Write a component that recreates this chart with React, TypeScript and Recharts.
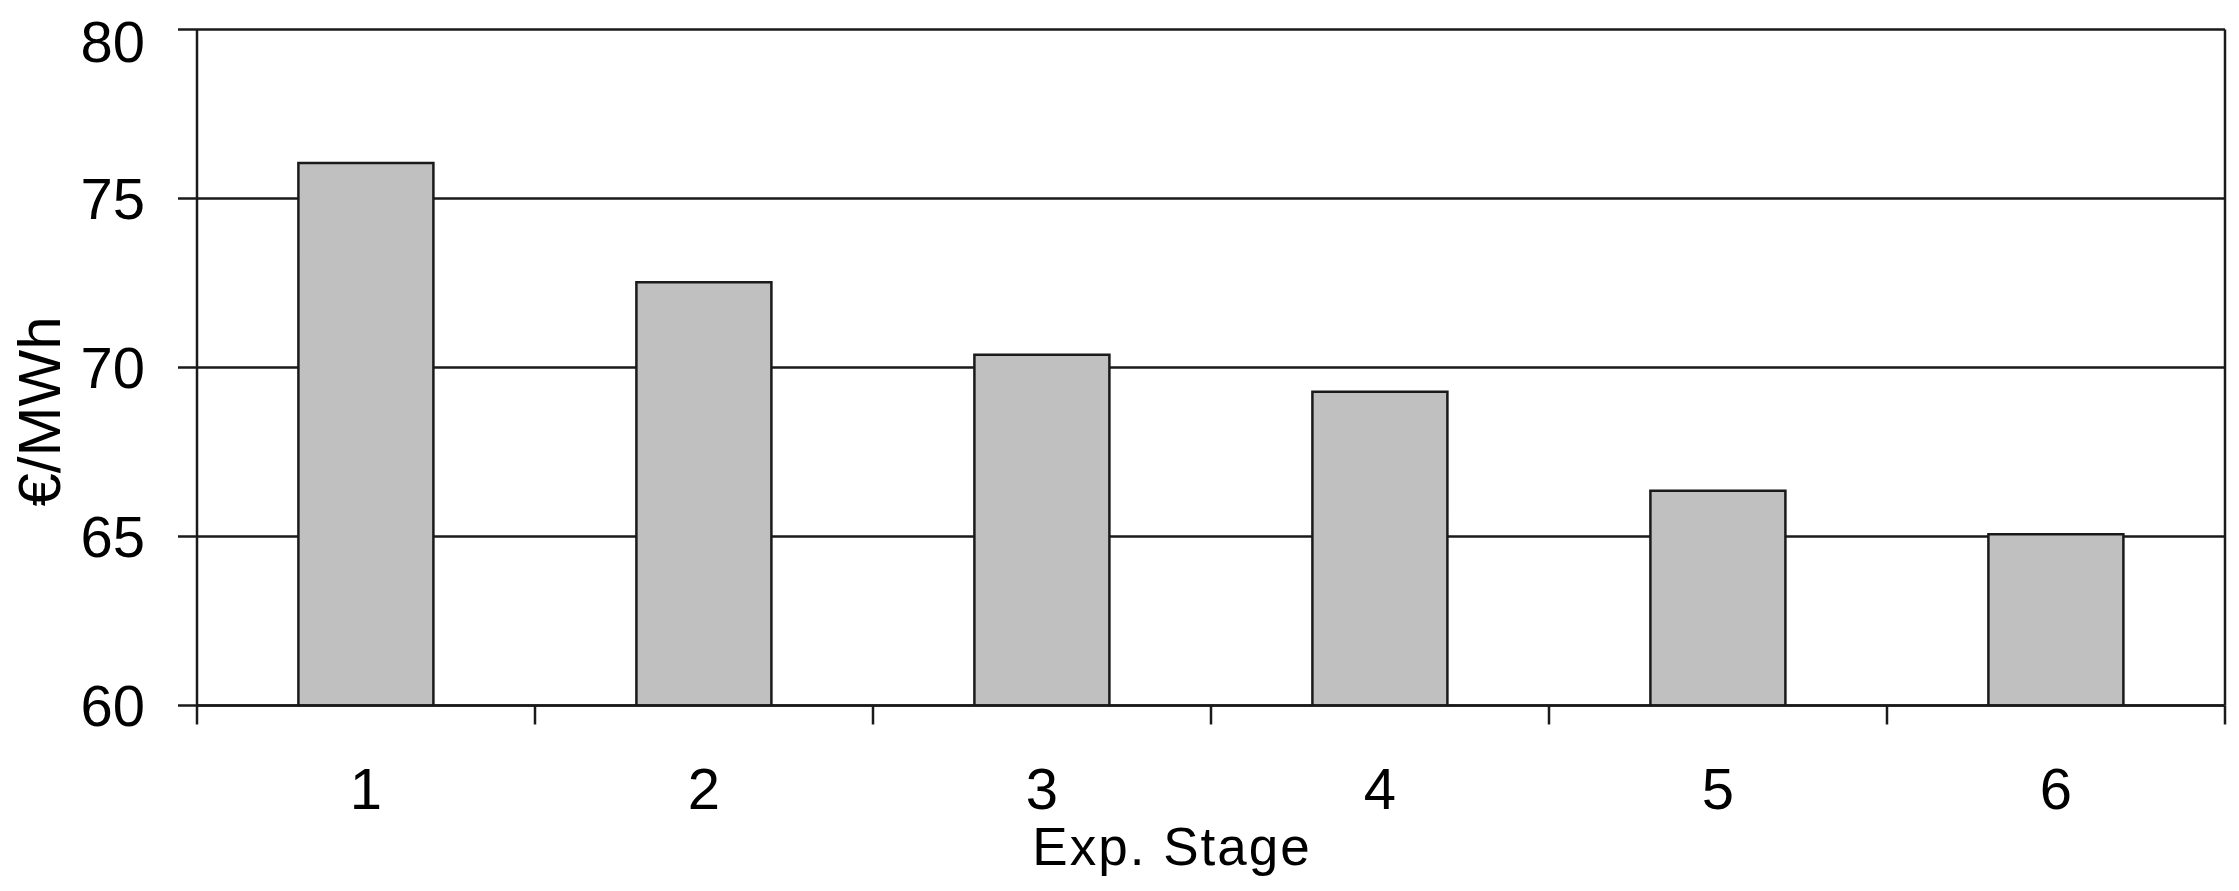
import React from "react";
import { BarChart, Bar, XAxis, YAxis, CartesianGrid, Label } from "recharts";

const stages = ["1", "2", "3", "4", "5", "6"];
const prices = [76.05, 72.52, 70.38, 69.28, 66.35, 65.07];
const yTicks = [60, 65, 70, 75, 80];

const data = stages.map((s, i) => ({ stage: s, price: prices[i] }));

const FONT = "'Liberation Sans', Arial, sans-serif";
const LINE = "#1a1a1a";
const LW = 2.5;
const TICK_LEN = 19;
const X_TICK_MARGIN = 62;

const YLabel = (props: any) => {
  const vb = props.viewBox || {};
  const cx = vb.x + 31;
  const cy = vb.y + vb.height / 2 + 44;
  return (
    <text
      x={cx}
      y={cy}
      transform={`rotate(-90, ${cx}, ${cy})`}
      textAnchor="middle"
      dominantBaseline="central"
      fontFamily={FONT}
      fontSize={60}
      fill="#000"
    >
      €/MWh
    </text>
  );
};

const XTick = (props: any) => {
  const { x, y, payload, index, visibleTicksCount, width } = props;
  const half =
    payload && typeof payload.offset === "number" && payload.offset > 0
      ? payload.offset
      : width / visibleTicksCount / 2;
  const axisY = y - X_TICK_MARGIN;
  const left = x - half;
  const right = x + half;
  return (
    <g>
      <line x1={left} x2={left} y1={axisY} y2={axisY + TICK_LEN} stroke={LINE} strokeWidth={LW} />
      {index === visibleTicksCount - 1 && (
        <line x1={right} x2={right} y1={axisY} y2={axisY + TICK_LEN} stroke={LINE} strokeWidth={LW} />
      )}
      <text
        x={x}
        y={y}
        dy="0.71em"
        textAnchor="middle"
        fontFamily={FONT}
        fontSize={58}
        fill="#000"
      >
        {payload.value}
      </text>
    </g>
  );
};

export default function App() {
  return (
    <div style={{ width: 2223, height: 875, background: "#fff" }}>
      <BarChart
        width={2223}
        height={875}
        data={data}
        margin={{ top: 21.5, right: 6, bottom: 0, left: 0 }}
        barCategoryGap="30%"
      >
        <CartesianGrid
          vertical
          stroke={LINE}
          strokeWidth={LW}
          verticalCoordinatesGenerator={(args: any) => {
            const o = args.offset;
            return [o.left + o.width];
          }}
        />
        <XAxis
          dataKey="stage"
          height={177.5}
          axisLine={{ stroke: LINE, strokeWidth: LW }}
          tickLine={false}
          tickSize={0}
          tickMargin={X_TICK_MARGIN}
          tick={<XTick />}
          interval={0}
        >
          <Label
            value="Exp. Stage"
            position="insideBottom"
            offset={18}
            dx={-39}
            style={{ fontFamily: FONT, fontSize: 53, letterSpacing: 2, fill: "#000" }}
          />
        </XAxis>
        <YAxis
          domain={[60, 80]}
          ticks={yTicks}
          width={189}
          tickSize={TICK_LEN}
          tickMargin={33}
          axisLine={{ stroke: LINE, strokeWidth: LW }}
          tickLine={{ stroke: LINE, strokeWidth: LW }}
          tick={{ fontFamily: FONT, fontSize: 58, fill: "#000" }}
          allowDataOverflow
        >
          <Label content={<YLabel />} />
        </YAxis>
        <Bar
          dataKey="price"
          fill="#c0c0c0"
          stroke={LINE}
          strokeWidth={LW}
          isAnimationActive={false}
        />
      </BarChart>
    </div>
  );
}
